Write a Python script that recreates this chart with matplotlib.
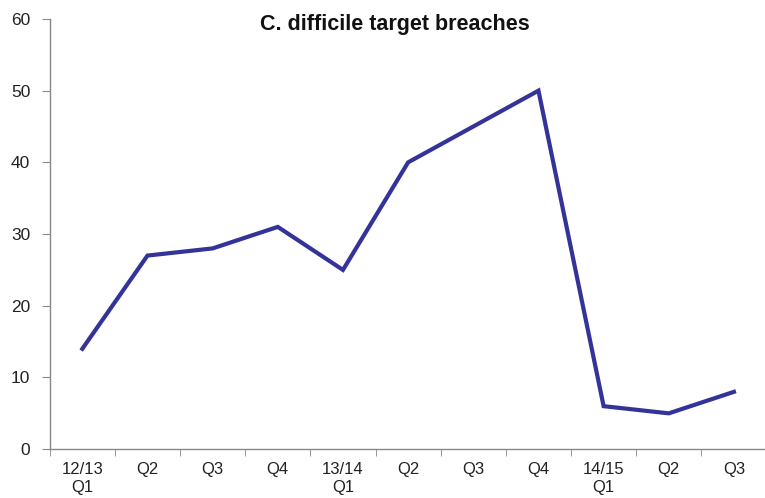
import matplotlib
matplotlib.use("Agg")
import matplotlib.pyplot as plt

plt.rcParams['font.family'] = ['Liberation Sans', 'DejaVu Sans']

quarters = ['12/13\nQ1', 'Q2', 'Q3', 'Q4', '13/14\nQ1', 'Q2', 'Q3', 'Q4', '14/15\nQ1', 'Q2', 'Q3']
breaches = [14, 27, 28, 31, 25, 40, 45, 50, 6, 5, 8]
y_ticks = [0, 10, 20, 30, 40, 50, 60]

fig = plt.figure(figsize=(7.65, 4.98), dpi=100, facecolor='white')
ax = fig.add_axes([0.065, 0.098, 0.937, 0.864])

x = list(range(len(breaches)))
ax.plot(x, breaches, color='#333399', linewidth=3, solid_joinstyle='miter')

ax.set_xlim(-0.5, len(breaches) - 0.5)
ax.set_ylim(0, 60)
ax.set_yticks(y_ticks)
ax.set_yticklabels([str(v) for v in y_ticks], fontsize=12.5)
ax.set_xticks(x)
ax.set_xticklabels(quarters, linespacing=1.3)
# tick marks between categories
ax.set_xticks([i - 0.5 for i in range(len(breaches) + 1)], minor=True)
ax.tick_params(axis='x', which='major', length=0, pad=9, labelsize=12, colors='#222222')
ax.tick_params(axis='x', which='minor', length=5, direction='out', color='#888888')
ax.tick_params(axis='y', length=6, direction='out', color='#888888', colors='#222222', pad=8)
ax.tick_params(axis='y', color='#888888')

for side in ['top', 'right']:
    ax.spines[side].set_visible(False)
for side in ['left', 'bottom']:
    ax.spines[side].set_color('#888888')
    ax.spines[side].set_linewidth(1)

fig.text(0.516, 0.951, 'C. difficile target breaches', ha='center', va='center',
         fontsize=15.5, fontweight='bold', color='#111111')

fig.savefig('out.png', dpi=100, facecolor='white')
